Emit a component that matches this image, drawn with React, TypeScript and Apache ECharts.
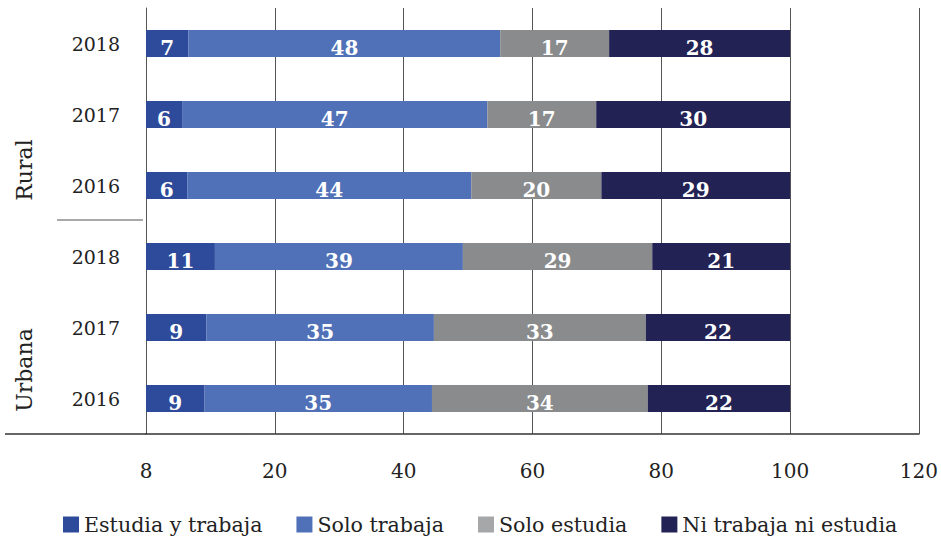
import React, { useEffect, useRef } from "react";
import * as echarts from "echarts";

const categories = ["Urbana 2016", "Urbana 2017", "Urbana 2018", "Rural 2016", "Rural 2017", "Rural 2018"];
const yearLabels = ["2016", "2017", "2018", "2016", "2017", "2018"];
const groupLabels = ["Rural", "Urbana"];
const seriesNames = ["Estudia y trabaja", "Solo trabaja", "Solo estudia", "Ni trabaja ni estudia"];
const estudiaYTrabaja = [9.1, 9.4, 10.7, 6.4, 5.6, 6.6];
const soloTrabaja = [35.3, 35.3, 38.5, 44.1, 47.4, 48.4];
const soloEstudia = [33.5, 32.9, 29.4, 20.2, 16.9, 16.9];
const niTrabajaNiEstudia = [22.1, 22.4, 21.4, 29.3, 30.1, 28.1];
const xTickLabels = ["8", "20", "40", "60", "80", "100", "120"];

const colors = ["#2E4B9B", "#5071B8", "#898B8D", "#232255"];
const legendColors = ["#2E4B9B", "#5071B8", "#A6A7A9", "#232255"];
const FONT = "DejaVu Serif";

export default function App() {
  const ref = useRef<HTMLDivElement>(null);
  useEffect(() => {
    if (!ref.current) return;
    const chart = echarts.init(ref.current, null, { renderer: "svg" });
    const values = [estudiaYTrabaja, soloTrabaja, soloEstudia, niTrabajaNiEstudia];
    const series = seriesNames.map((name, i) => ({
      name,
      type: "bar",
      stack: "total",
      barWidth: 27,
      data: values[i],
      itemStyle: { color: colors[i] },
      label: {
        show: true,
        position: "inside",
        color: "#ffffff",
        fontFamily: FONT,
        fontWeight: "bold",
        fontSize: 20,
        offset: [0, 4],
        formatter: (p: any) => String(Math.round(p.value)),
      },
    }));
    chart.setOption({
      animation: false,
      grid: { left: 146, right: 21, top: 8, bottom: 103, containLabel: false },
      legend: {
        left: 63,
        top: 514,
        padding: 0,
        itemWidth: 16,
        itemHeight: 16,
        itemGap: 34,
        icon: "rect",
        textStyle: { fontFamily: FONT, fontSize: 20.6, color: "#222" },
        data: seriesNames.map((n, i) => ({ name: n, itemStyle: { color: legendColors[i] } })),
      },
      xAxis: {
        type: "value",
        min: 0,
        max: 120,
        interval: 20,
        axisLine: { show: true, lineStyle: { color: "#333", width: 1.5 } },
        axisTick: { show: false },
        splitLine: { show: true, lineStyle: { color: "#555", width: 1 } },
        axisLabel: {
          margin: 27,
          fontFamily: FONT,
          fontSize: 20,
          color: "#222",
          formatter: (v: number) => xTickLabels[Math.round(v / 20)] ?? String(v),
        },
      },
      yAxis: {
        type: "category",
        data: categories,
        axisLine: { show: true, lineStyle: { color: "#555", width: 1 } },
        axisTick: { show: false },
        axisLabel: {
          margin: 26,
          fontFamily: FONT,
          fontSize: 19,
          color: "#222",
          formatter: (_v: string, i: number) => yearLabels[i],
        },
      },
      graphic: [
        { type: "line", shape: { x1: 5, y1: 434, x2: 146, y2: 434 }, style: { stroke: "#333", lineWidth: 1.5 } },
        { type: "line", shape: { x1: 57, y1: 220, x2: 143, y2: 220 }, style: { stroke: "#555", lineWidth: 1 } },
        {
          type: "text",
          x: 24,
          y: 170,
          rotation: Math.PI / 2,
          style: { text: groupLabels[0], fontFamily: FONT, fontSize: 22, fill: "#222", textAlign: "center", textVerticalAlign: "middle" },
        },
        {
          type: "text",
          x: 24,
          y: 370,
          rotation: Math.PI / 2,
          style: { text: groupLabels[1], fontFamily: FONT, fontSize: 22, fill: "#222", textAlign: "center", textVerticalAlign: "middle" },
        },
      ],
      series,
    });
    return () => chart.dispose();
  }, []);
  return <div ref={ref} style={{ position: "fixed", left: 0, top: 0, width: 941, height: 537, background: "#fff" }} />;
}
